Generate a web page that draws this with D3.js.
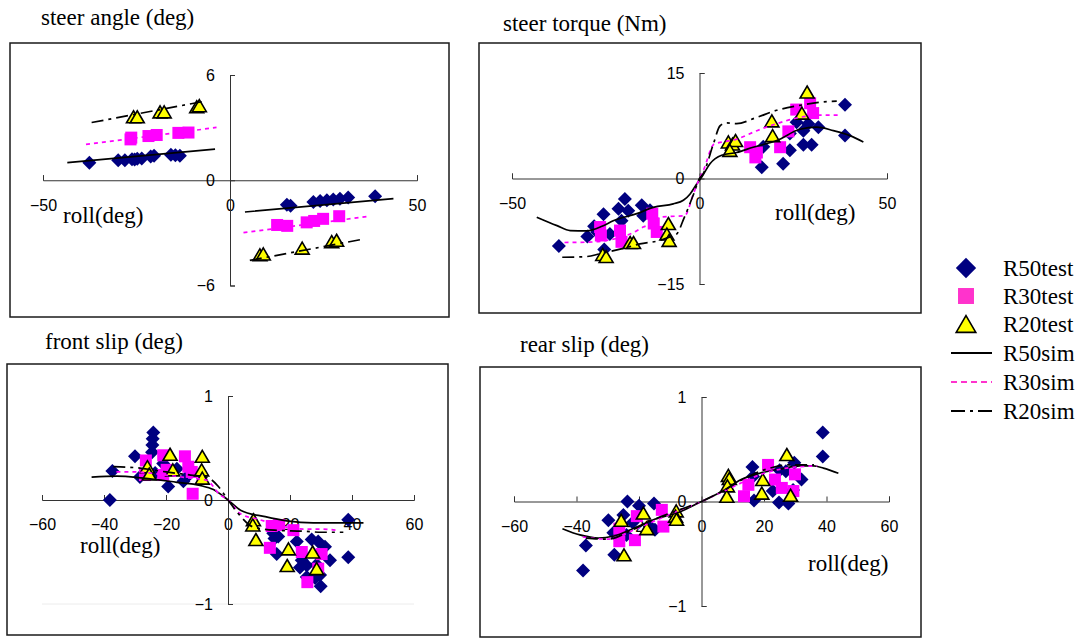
<!DOCTYPE html>
<html>
<head>
<meta charset="utf-8">
<script src="https://cdn.jsdelivr.net/npm/d3@7"></script>
<style>
  body { margin: 0; background: #fff; }
  svg { display: block; }
</style>
</head>
<body>
<div id="main"></div>
<script>
// Datos: [roll (deg), valor]
// steer angle (deg)
var angleR50test = [[-37.6, 1.0], [-29.9, 1.14], [-28.1, 1.14], [-26.2, 1.2], [-25.5, 1.18], [-24.8, 1.22], [-23.6, 1.24],
	[-21.2, 1.36], [-20.3, 1.4], [-15.8, 1.46], [-14.6, 1.43], [-13.4, 1.39],
	[15.2, -1.4], [16.2, -1.46], [22.3, -1.24], [24.1, -1.18], [25.9, -1.14], [27.6, -1.1], [29.4, -1.05], [31.6, -0.99], [38.8, -0.91]];
var angleR30test = [[-26.6, 2.33], [-26.4, 2.43], [-21.8, 2.52], [-19.6, 2.58], [-13.8, 2.7], [-11.1, 2.72],
	[12.6, -2.55], [15.3, -2.6], [20.5, -2.4], [22.5, -2.32], [24.9, -2.2], [29.2, -2.05]];
var angleR20test = [[-25.8, 3.62], [-24.8, 3.62], [-18.7, 3.9], [-17.6, 3.9], [-8.9, 4.19], [-8.2, 4.25],
	[8.0, -4.25], [8.9, -4.2], [19.3, -3.87], [27.2, -3.5], [28.5, -3.42]];
var angleR50sim = [[-43.5, 1.01], [-4.0, 1.77], null, [4.0, -1.81], [43.7, -1.05]];
var angleR30sim = [[-38.5, 2.04], [-3.6, 3.01], null, [3.6, -2.99], [37.0, -2.06]];
var angleR20sim = [[-37.0, 3.29], [-6.7, 4.51], null, [5.3, -4.57], [34.8, -3.39]];

// steer torque (Nm)
var torqueR50test = [[-37.5, -9.6], [-29.9, -8.25], [-28.1, -6.8], [-27.3, -7.6], [-25.6, -5.1], [-25.4, -10.1], [-23.9, -7.9],
	[-21.6, -4.3], [-19.9, -2.9], [-19.0, -4.6], [-20.8, -6.0], [-15.4, -3.8], [-15.0, -5.3], [-13.2, -4.5],
	[16.6, 1.6], [17.0, 4.5], [22.3, 2.1], [24.1, 4.0], [24.1, 6.4], [25.9, 8.0], [27.7, 4.8], [29.9, 4.8],
	[27.7, 6.8], [29.0, 7.8], [31.7, 7.3], [38.8, 10.5], [38.8, 6.1]];
var torqueR30test = [[-26.5, -6.9], [-26.3, -8.1], [-21.2, -7.4], [-20.8, -9.0], [-12.6, -5.0], [-12.2, -6.4], [-11.4, -7.6],
	[13.5, 4.45], [14.9, 3.0], [15.3, 3.7], [21.5, 4.45], [23.7, 6.7], [25.8, 9.8], [29.5, 10.7], [30.3, 9.3]];
var torqueR20test = [[-25.8, -10.8], [-24.9, -11.1], [-18.5, -9.1], [-17.6, -9.1], [-8.3, -6.4], [-8.7, -7.9], [-8.1, -8.8],
	[7.7, 5.2], [8.8, 4.9], [9.6, 5.4], [8.1, 4.0], [19.3, 8.2], [19.5, 6.1], [27.3, 9.3], [28.7, 12.3]];
var torqueR50sim = [[-43.4, -5.5], [-38.0, -6.7], [-34.5, -7.4], [-30.1, -7.45], [-26.0, -6.8], [-23.0, -6.0], [-16.7, -5.0],
	[-12.3, -4.1], [-7.0, -3.6], [-4.3, -3.1], [-2.5, -2.2], [-0.7, -0.75], [0.6, 0.2], [2.8, 2.1], [5.9, 3.3],
	[9.9, 3.7], [14.3, 4.45], [20.6, 5.4], [26.8, 7.0], [31.3, 7.3], [35.7, 6.8], [40.1, 6.1], [43.7, 5.2]];
var torqueR30sim = [[-36.0, -9.1], [-29.5, -9.05], [-18.5, -7.9], [-15.0, -6.9], [-11.9, -6.2], [-10.5, -5.5], [-7.9, -5.4],
	[-4.0, -5.3], [-1.5, -2.0], [0, 0], [1.0, 1.1], [3.9, 4.9], [6.3, 5.2], [9.9, 5.6], [15.3, 6.8], [20.6, 7.8],
	[26.8, 8.7], [32.1, 9.0], [37.0, 9.0]];
var torqueR20sim = [[-36.6, -11.2], [-30.1, -11.1], [-26.5, -10.7], [-19.4, -9.8], [-15.9, -9.3], [-10.5, -8.8], [-7.9, -8.3],
	[-6.1, -7.9], [-4.1, -5.6], [-1.7, -2.4], [0, 0], [1.0, 0.7], [3.7, 4.9], [5.5, 7.5], [7.3, 7.9], [9.9, 7.8],
	[15.3, 8.7], [20.6, 9.7], [26.8, 10.4], [33.0, 10.9], [36.6, 11.0]];

// front slip (deg)
var frontR50test = [[-38.1, 0], [-37.3, 0.28], [-30.0, 0.42], [-28.4, 0.22], [-24.1, 0.65], [-24.3, 0.59], [-24.4, 0.53],
	[-24.5, 0.46], [-23.5, 0.26], [-20.9, 0.35], [-19.3, 0.13], [-16.5, 0.3], [-14.4, 0.18], [-13.3, 0.22],
	[38.8, -0.19], [38.8, -0.55], [29.9, -0.83], [15.7, -0.52], [14.6, -0.32], [15.0, -0.37], [16.2, -0.35],
	[22.2, -0.4], [27.0, -0.38], [29.1, -0.4], [31.3, -0.45], [32.9, -0.58], [23.8, -0.58], [25.4, -0.63],
	[23.2, -0.65], [25.4, -0.74], [28.1, -0.75], [29.7, -0.72], [28.6, -0.62]];
var frontR30test = [[-26.5, 0.38], [-26.8, 0.24], [-20.9, 0.43], [-20.9, 0.24], [-19.8, 0.29], [-13.9, 0.42], [-12.8, 0.32],
	[-11.7, 0.27], [-11.4, 0.06],
	[14.1, -0.25], [16.5, -0.24], [13.5, -0.46], [21.1, -0.29], [23.8, -0.5], [30.2, -0.52], [29.1, -0.66], [25.6, -0.79]];
var frontR20test = [[-26.0, 0.32], [-25.4, 0.25], [-18.7, 0.44], [-17.8, 0.29], [-8.3, 0.42], [-8.5, 0.29], [-8.3, 0.21],
	[8.2, -0.19], [8.0, -0.24], [9.0, -0.38], [19.5, -0.47], [19.1, -0.63], [27.3, -0.5], [28.6, -0.66]];
var frontR50sim = [[-44.0, 0.22], [-35.9, 0.23], [-27.3, 0.21], [-16.5, 0.17], [-9.0, 0.14], [-4.7, 0.1], [0, 0],
	[4.2, -0.1], [12.0, -0.16], [18.9, -0.2], [27.5, -0.22], [35.1, -0.22], [43.7, -0.22]];
var frontR30sim = [[-36.0, 0.27], [-30.0, 0.27], [-20.0, 0.24], [-12.0, 0.21], [-6.9, 0.19], [-2.6, 0.05], [0, 0],
	[3.9, -0.13], [10.3, -0.19], [18.9, -0.26], [24.3, -0.28], [29.7, -0.28], [35.1, -0.29]];
var frontR20sim = [[-37.0, 0.32], [-29.5, 0.31], [-20.0, 0.27], [-12.0, 0.24], [-6.9, 0.22], [-3.1, 0.13], [0, 0],
	[3.3, -0.13], [8.2, -0.26], [15.0, -0.29], [24.3, -0.3], [30.0, -0.31], [37.2, -0.31]];

// rear slip (deg)
var rearR50test = [[-37.9, -0.66], [-37.0, -0.42], [-27.9, -0.51], [-29.8, -0.18], [-23.7, 0.0], [-25.0, -0.13], [-24.0, -0.32],
	[-28.2, -0.3], [-22.0, -0.2], [-20.0, -0.04], [-15.2, -0.02], [-16.5, -0.24], [-14.9, -0.27],
	[38.8, 0.66], [38.8, 0.43], [16.3, 0.33], [24.8, -0.01], [27.8, -0.02], [29.7, 0.37], [27.0, 0.29], [25.0, 0.3],
	[32.0, 0.21], [22.8, 0.1], [16.8, 0.01], [16.5, 0.24], [29.3, 0.11]];
var rearR30test = [[-26.3, -0.38], [-26.3, -0.26], [-21.3, -0.37], [-20.7, -0.14], [-12.7, -0.08], [-12.2, -0.24],
	[21.3, 0.35], [15.0, 0.16], [13.6, 0.05], [23.5, 0.21], [25.7, 0.13], [29.9, 0.26], [29.4, 0.1]];
var rearR20test = [[-25.7, -0.18], [-24.8, -0.51], [-18.6, -0.11], [-17.5, -0.26], [-8.1, -0.09], [-8.3, -0.14], [-8.0, -0.17],
	[8.6, 0.25], [8.9, 0.22], [8.3, 0.15], [8.1, 0.05], [19.6, 0.21], [19.3, 0.08], [27.3, 0.45], [28.5, 0.06]];
var rearR50sim = [[-44.5, -0.26], [-38.9, -0.32], [-33.0, -0.35], [-28.0, -0.33], [-22.0, -0.26], [-15.0, -0.17], [-7.0, -0.1],
	[0, 0], [6.8, 0.1], [12.7, 0.21], [18.6, 0.27], [25.0, 0.31], [31.5, 0.34], [35.8, 0.34], [39.0, 0.32], [43.8, 0.27]];
var rearR30sim = [[-38.0, -0.34], [-30.0, -0.36], [-20.0, -0.25], [-10.0, -0.12], [0, 0], [10.0, 0.14], [20.0, 0.27],
	[30.0, 0.33], [37.0, 0.34]];
var rearR20sim = [[-37.0, -0.35], [-30.0, -0.36], [-22.0, -0.27], [-15.0, -0.17], [-8.0, -0.09], [0, 0], [8.0, 0.12],
	[15.0, 0.24], [22.0, 0.32], [28.0, 0.35], [36.0, 0.35]];

// Marcas de los ejes
var ticksRoll50 = [-50, 0, 50];
var ticksRoll60 = [-60, -40, -20, 0, 20, 40, 60];
var ticksAngle = [-6, 0, 6];
var ticksTorque = [-15, 0, 15];
var ticksSlip = [-1, 0, 1];

// Textos de la leyenda
var leyendaNombres = ["R50test", "R30test", "R20test", "R50sim", "R30sim", "R20sim"];

// Constantes de estilo
var colorR50 = "#000080";
var colorR30 = "#ff00ff";
var colorR30Leyenda = "#ff33cc";
var colorR20 = "#ffff00";
var fuenteSerif = "'Liberation Serif', 'Times New Roman', serif";
var fuenteSans = "'Liberation Sans', Arial, sans-serif";
var formatoEntero = d3.format("d");

// Configuración de cada panel
var paneles = [
	{ titulo: "steer angle (deg)", tx: 41, ty: 25, marco: [10, 43, 449, 317],
		xDom: [-50, 50], xRan: [43, 417], xTicks: ticksRoll50,
		yDom: [-6, 6], yRan: [285.5, 75], yTicks: ticksAngle, rx: 63, ry: 223,
		r50test: angleR50test, r30test: angleR30test, r20test: angleR20test,
		r50sim: angleR50sim, r30sim: angleR30sim, r20sim: angleR20sim },
	{ titulo: "steer torque (Nm)", tx: 503, ty: 31, marco: [479, 43, 921, 313],
		xDom: [-50, 50], xRan: [512, 887], xTicks: ticksRoll50,
		yDom: [-15, 15], yRan: [284, 73], yTicks: ticksTorque, rx: 775, ry: 220,
		r50test: torqueR50test, r30test: torqueR30test, r20test: torqueR20test,
		r50sim: torqueR50sim, r30sim: torqueR30sim, r20sim: torqueR20sim },
	{ titulo: "front slip (deg)", tx: 45, ty: 349, marco: [7, 364, 448, 635],
		xDom: [-60, 60], xRan: [42, 414], xTicks: ticksRoll60,
		yDom: [-1, 1], yRan: [604, 396], yTicks: ticksSlip, rx: 80, ry: 553, grid: true,
		r50test: frontR50test, r30test: frontR30test, r20test: frontR20test,
		r50sim: frontR50sim, r30sim: frontR30sim, r20sim: frontR20sim },
	{ titulo: "rear slip (deg)", tx: 520, ty: 352, marco: [480, 367, 921, 637],
		xDom: [-60, 60], xRan: [514, 889], xTicks: ticksRoll60,
		yDom: [-1, 1], yRan: [606, 397], yTicks: ticksSlip, rx: 808, ry: 571,
		r50test: rearR50test, r30test: rearR30test, r20test: rearR20test,
		r50sim: rearR50sim, r30sim: rearR30sim, r20sim: rearR20sim }
];

// Crear el objeto svg
var svg = d3.select("#main").append("svg")
	.attr("width", 1087)
	.attr("height", 638)
	.attr("style", "background-color: #fff;");

/**
* @method :: simboloDibujar
* @description :: Dibuja un marcador (diamante, cuadrado o triángulo) en el punto dado
**/
function simboloDibujar(g, tipo, cx, cy, escala) {
	var s = escala || 1;
	if(tipo === "diamante") {
		var r = 7 * s;
		g.append("path")
			.attr("d", "M" + cx + "," + (cy - r) + "L" + (cx + r) + "," + cy + "L" + cx + "," + (cy + r) + "L" + (cx - r) + "," + cy + "Z")
			.attr("fill", colorR50);
	} else if(tipo === "cuadrado") {
		var l = 12 * s;
		g.append("rect")
			.attr("x", cx - l / 2).attr("y", cy - l / 2)
			.attr("width", l).attr("height", l)
			.attr("fill", s > 1 ? colorR30Leyenda : colorR30);
	} else {
		var w = 7 * s, h = 6 * s;
		g.append("path")
			.attr("d", "M" + cx + "," + (cy - h) + "L" + (cx + w) + "," + (cy + h) + "L" + (cx - w) + "," + (cy + h) + "Z")
			.attr("fill", colorR20)
			.attr("stroke", "#000")
			.attr("stroke-width", 1.6)
			.attr("stroke-linejoin", "miter");
	}
}

/**
* @method :: panelDibujar
* @description :: Dibuja un panel completo: marco, ejes, marcadores y curvas
**/
function panelDibujar(p) {
	var x = d3.scaleLinear().domain(p.xDom).range(p.xRan);
	var y = d3.scaleLinear().domain(p.yDom).range(p.yRan);
	var g = svg.append("g");

	// Título del panel
	svg.append("text")
		.attr("x", p.tx).attr("y", p.ty)
		.attr("font-family", fuenteSerif).attr("font-size", 23)
		.text(p.titulo);

	// Marco del panel
	g.append("rect")
		.attr("x", p.marco[0]).attr("y", p.marco[1])
		.attr("width", p.marco[2] - p.marco[0]).attr("height", p.marco[3] - p.marco[1])
		.attr("fill", "none").attr("stroke", "#1a1a1a").attr("stroke-width", 1.5);

	// Línea tenue en el mínimo (solo front slip)
	if(p.grid) {
		g.append("line")
			.attr("x1", p.xRan[0]).attr("x2", p.xRan[1])
			.attr("y1", y(p.yDom[0])).attr("y2", y(p.yDom[0]))
			.attr("stroke", "#ececec").attr("stroke-width", 1);
	}

	// Eje X cruzando en cero
	var ejeX = g.append("g")
		.attr("transform", "translate(0," + y(0) + ")")
		.call(d3.axisBottom(x).tickValues(p.xTicks).tickFormat(formatoEntero)
			.tickSizeInner(-5).tickSizeOuter(-5).tickPadding(19));

	// Eje Y cruzando en cero
	var ejeY = g.append("g")
		.attr("transform", "translate(" + x(0) + ",0)")
		.call(d3.axisLeft(y).tickValues(p.yTicks).tickFormat(formatoEntero)
			.tickSizeInner(-5).tickSizeOuter(-5).tickPadding(15));

	[ejeX, ejeY].forEach(function(e) {
		e.selectAll("path, line").attr("stroke", "#333").attr("stroke-width", 1);
		e.selectAll("text").attr("font-family", fuenteSans).attr("font-size", 16).attr("fill", "#000");
	});

	// Etiqueta roll(deg)
	g.append("text")
		.attr("x", p.rx).attr("y", p.ry)
		.attr("font-family", fuenteSerif).attr("font-size", 23)
		.text("roll(deg)");

	// Marcadores de las pruebas
	p.r50test.forEach(function(d) { simboloDibujar(g, "diamante", x(d[0]), y(d[1])); });
	p.r30test.forEach(function(d) { simboloDibujar(g, "cuadrado", x(d[0]), y(d[1])); });
	p.r20test.forEach(function(d) { simboloDibujar(g, "triangulo", x(d[0]), y(d[1])); });

	// Curvas de la simulación
	var linea = d3.line()
		.defined(function(d) { return d !== null; })
		.x(function(d) { return x(d[0]); })
		.y(function(d) { return y(d[1]); })
		.curve(d3.curveMonotoneX);

	g.append("path").attr("d", linea(p.r50sim))
		.attr("fill", "none").attr("stroke", "#000").attr("stroke-width", 1.7);
	g.append("path").attr("d", linea(p.r30sim))
		.attr("fill", "none").attr("stroke", colorR30).attr("stroke-width", 1.7)
		.attr("stroke-dasharray", "4 4");
	g.append("path").attr("d", linea(p.r20sim))
		.attr("fill", "none").attr("stroke", "#000").attr("stroke-width", 1.7)
		.attr("stroke-dasharray", "12 5 3 5");
}

paneles.forEach(panelDibujar);

// Leyenda
var leyenda = svg.append("g");
var leyendaY = [268, 296, 324, 353, 382, 411];
leyendaNombres.forEach(function(nombre, i) {
	var cy = leyendaY[i];
	if(i === 0) simboloDibujar(leyenda, "diamante", 966, cy, 1.45);
	else if(i === 1) simboloDibujar(leyenda, "cuadrado", 966, cy, 1.33);
	else if(i === 2) simboloDibujar(leyenda, "triangulo", 966, cy, 1.4);
	else {
		var ln = leyenda.append("line")
			.attr("x1", 951).attr("x2", 992)
			.attr("y1", cy).attr("y2", cy)
			.attr("stroke", i === 4 ? colorR30Leyenda : "#000")
			.attr("stroke-width", 2);
		if(i === 4) ln.attr("stroke-dasharray", "6 4");
		if(i === 5) ln.attr("stroke-dasharray", "14 5 3 5");
	}
	leyenda.append("text")
		.attr("x", 1003).attr("y", cy + 8)
		.attr("font-family", fuenteSerif).attr("font-size", 23)
		.text(nombre);
});
</script>
</body>
</html>
